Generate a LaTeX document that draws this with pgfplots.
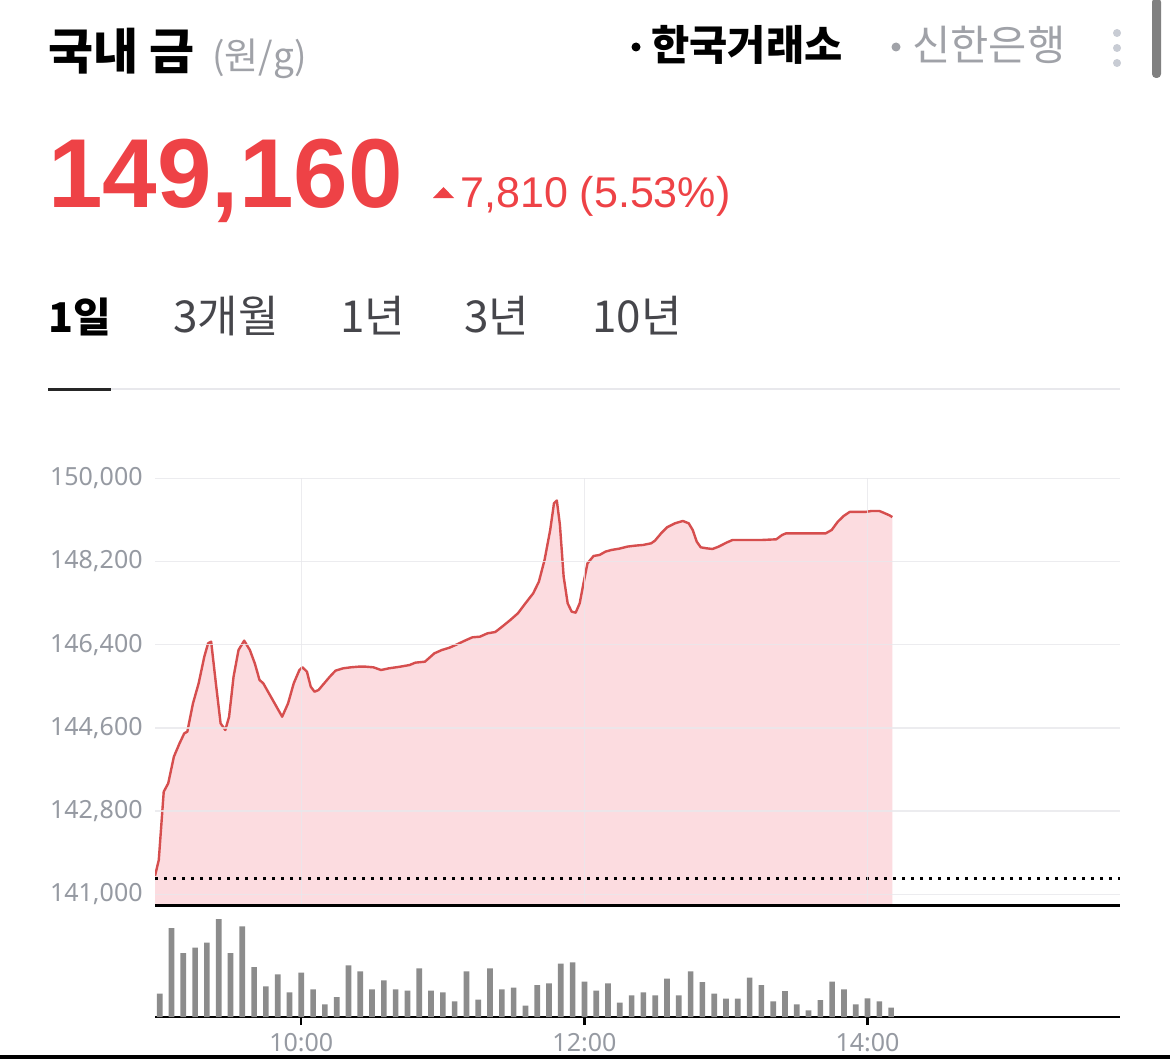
\documentclass[border=0pt]{standalone}
\usepackage{pgfplots}
\pgfplotsset{compat=1.18}
\usepackage{fontspec}
\setmainfont{Noto Sans}
\newfontfamily\kr{Noto Sans CJK KR}
\newfontfamily\arial{Liberation Sans}
\definecolor{redtxt}{RGB}{238,66,70}
\definecolor{redline}{RGB}{214,78,78}
\definecolor{pinkfill}{RGB}{252,220,224}
\definecolor{ticklab}{RGB}{150,154,162}
\definecolor{gridgray}{RGB}{232,232,236}
\definecolor{bargray}{RGB}{140,140,140}
\definecolor{tabgray}{RGB}{70,70,75}
\definecolor{lightgray}{RGB}{160,162,168}
\definecolor{dotgray}{RGB}{200,204,212}

\pgfplotstableread{
t v
-2.0 141400
-0.4 141742
1.7 143221
3.6 143401
6.0 143978
8.4 144267
10.4 144483
11.7 144519
14.1 145132
16.5 145565
18.9 146142
20.5 146430
21.8 146466
23.8 145565
25.8 144699
27.8 144555
29.4 144843
31.3 145709
33.4 146286
35.8 146488
38.2 146286
40.3 145997
42.3 145637
43.9 145565
45.5 145420
48.7 145132
51.9 144843
54.4 145132
56.8 145565
59.2 145853
60.5 145911
62.4 145817
64.0 145493
65.6 145384
67.3 145420
69.7 145565
72.1 145709
74.5 145839
77.7 145889
80.9 145911
84.2 145925
87.4 145925
90.6 145911
93.8 145853
97.1 145889
101.9 145925
105.9 145961
108.3 146012
112.4 146033
114.0 146105
116.4 146214
119.6 146286
122.8 146336
126.0 146408
129.3 146488
132.5 146560
135.7 146574
138.9 146646
142.2 146675
144.6 146769
148.6 146935
151.8 147079
155.0 147296
158.3 147512
160.7 147764
163.1 148233
165.5 148882
167.1 149459
168.3 149520
169.6 149000
171.2 147872
172.9 147296
174.6 147115
176.3 147094
178.0 147296
179.6 147728
181.3 148161
183.9 148320
186.4 148341
188.9 148413
191.4 148449
194.8 148478
198.2 148522
201.5 148543
204.9 148558
208.3 148594
209.9 148651
212.5 148810
215.0 148940
218.4 149026
221.7 149077
224.2 149026
225.9 148882
227.6 148630
229.3 148507
231.8 148485
234.3 148471
236.9 148522
240.2 148608
242.8 148666
248.7 148666
255.4 148666
261.3 148680
263.8 148774
265.5 148810
273.9 148810
282.3 148810
284.8 148882
287.4 149062
289.9 149185
292.4 149272
295.8 149272
299.1 149272
301.7 149293
305.0 149293
306.7 149257
309.3 149199
310.5 149160
}\pricedata

\pgfplotstableread{
t v
0 70
5 267
10 192
15 208
20 223
25 294
30 192
35 272
40 150
45 92
50 128
55 74
60 133
65 83
70 38
75 60
80 155
85 137
90 83
95 110
100 83
105 79
110 146
115 79
120 74
125 47
130 137
135 52
140 146
145 83
150 88
155 34
160 96
165 101
170 160
175 164
180 106
185 79
190 101
195 43
200 65
205 74
210 65
215 115
220 65
225 137
230 105
235 70
240 55
245 55
250 118
255 96
260 47
265 78
270 38
275 20
280 51
285 106
290 83
295 38
300 56
305 47
310 28
}\voldata

\begin{document}
\begin{tikzpicture}[x=0.5pt,y=0.5pt]
\useasboundingbox (0,0) rectangle (1170,-1059);
\fill[white] (0,0) rectangle (1170,-1059);

% header
\node[anchor=base west, inner sep=0] at (48,-70) {\kr\bfseries\fontsize{24.5}{28}\selectfont 국내 금};
\node[anchor=base west, inner sep=0, text=lightgray] at (212,-70) {\kr\fontsize{18.5}{22}\selectfont (원/g)};
\fill[black] (636,-47) circle (4.5);
\node[anchor=base west, inner sep=0] at (651,-61) {\kr\bfseries\fontsize{20.8}{24}\selectfont 한국거래소};
\fill[lightgray] (896,-47) circle (4.5);
\node[anchor=base west, inner sep=0, text=lightgray] at (912,-61) {\kr\fontsize{20.8}{24}\selectfont 신한은행};
\fill[dotgray] (1117,-33) circle (4);
\fill[dotgray] (1117,-48) circle (4);
\fill[dotgray] (1117,-63) circle (4);
\fill[gray, rounded corners=2] (1152,2) rectangle (1161,-78);

\node[anchor=base west, inner sep=0, text=redtxt] at (48,-207) {\arial\bfseries\fontsize{49}{56}\selectfont 149,160};
\fill[redtxt] (433,-198) -- (454,-198) -- (443.5,-187) -- cycle;
\node[anchor=base west, inner sep=0, text=redtxt] at (460,-207) {\arial\fontsize{21.5}{26}\selectfont 7,810 (5.53\%)};

% tabs
\node[anchor=base west, inner sep=0] at (48,-332) {\kr\bfseries\fontsize{20.5}{24}\selectfont 1일};
\node[anchor=base west, inner sep=0, text=tabgray] at (173,-332) {\kr\fontsize{22}{26}\selectfont 3개월};
\node[anchor=base west, inner sep=0, text=tabgray] at (340,-332) {\kr\fontsize{22}{26}\selectfont 1년};
\node[anchor=base west, inner sep=0, text=tabgray] at (464,-332) {\kr\fontsize{22}{26}\selectfont 3년};
\node[anchor=base west, inner sep=0, text=tabgray] at (592,-332) {\kr\fontsize{22}{26}\selectfont 10년};
\draw[gridgray, line width=1pt] (111,-389) -- (1120,-389);
\draw[black!85, line width=1.5pt] (48,-389) -- (111,-389);

% bottom line
\fill[black] (0,-1055) rectangle (1170,-1059);

\begin{axis}[
  at={(77.5pt,-452.5pt)}, anchor=south west, scale only axis,
  width=482.5pt, height=213.35pt,
  xmin=-2, xmax=407, ymin=140770, ymax=150000,
  axis on top,
  axis x line*=bottom, axis y line*=left,
  x axis line style={-, black, line width=1.5pt},
  y axis line style={draw=none},
  major tick length=0pt,
  xtick={60,180,300}, xticklabels={,,},
  ytick={141000,142800,144600,146400,148200,150000},
  scaled y ticks=false,
  yticklabel={\pgfmathprintnumber[fixed, precision=0, 1000 sep={,}, assume math mode=true]{\tick}},
  yticklabel style={font=\fontsize{12.5}{14}\selectfont, text=ticklab, anchor=east, inner sep=0pt, xshift=-6pt},
  grid=major, grid style={line width=0.75pt, gridgray, opacity=0.8},
]
\addplot[fill=pinkfill, draw=none] table[x=t,y=v] {\pricedata} \closedcycle;
\addplot[redline, line width=1.2pt, line join=round] table[x=t,y=v] {\pricedata};
\addplot[black, line width=1.4pt, dash pattern=on 1.3pt off 3.2pt] coordinates {(-2,141350) (407,141350)};
\end{axis}

\begin{axis}[
  at={(77.5pt,-508.5pt)}, anchor=south west, scale only axis,
  width=482.5pt, height=50pt,
  xmin=-2, xmax=407, ymin=0, ymax=300,
  axis x line*=bottom, axis y line*=left,
  x axis line style={-, black, line width=1.2pt},
  y axis line style={draw=none}, ytick=\empty,
  xtick={60,180,300}, xticklabels={10:00,12:00,14:00},
  tick align=outside, major tick length=4pt,
  xtick style={black, line width=1.2pt},
  xticklabel style={font=\fontsize{12.5}{14}\selectfont, text=ticklab, inner sep=0pt, yshift=-4pt},
  ybar, bar width=2.4,
]
\addplot[fill=bargray, draw=none] table[x=t,y=v] {\voldata};
\end{axis}
\end{tikzpicture}
\end{document}
